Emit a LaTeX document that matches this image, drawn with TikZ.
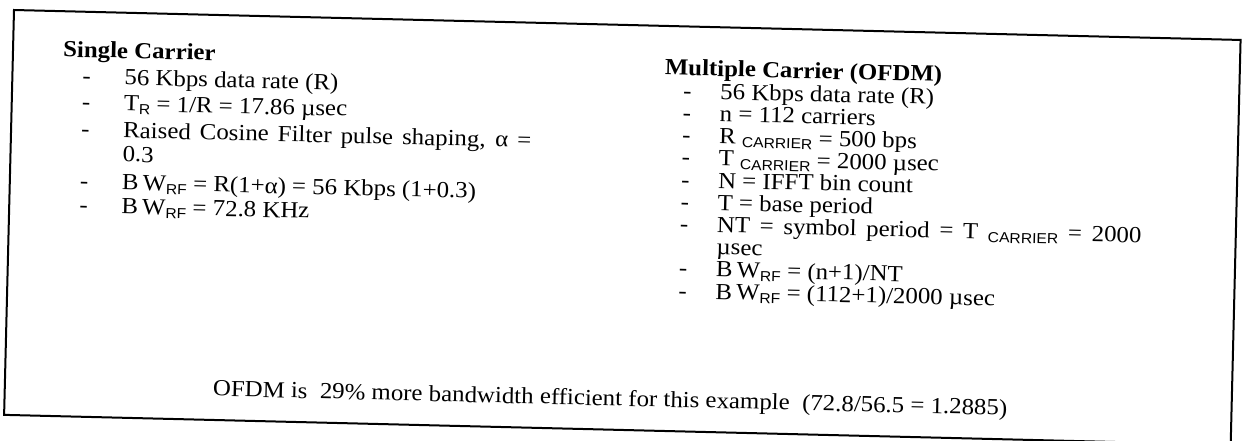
\documentclass[tikz,border=0pt]{standalone}
\usepackage{fontspec}
\setmainfont{Liberation Serif}
\newfontfamily\subfont{Liberation Sans}
% lowered small sans-serif subscript
\newcommand{\sbs}[1]{\raisebox{-0.15em}{\fontsize{14.5}{14.5}\selectfont\subfont #1}}
\begin{document}
\begin{tikzpicture}[x=1pt,y=1pt,
  txt/.style={anchor=base west, inner sep=0pt, font=\fontsize{23}{25}\selectfont, xscale=1.08},
  head/.style={txt, font=\fontsize{23}{25}\selectfont\bfseries},
  dashitem/.style={txt},
  frame/.style={line width=2pt}]
\useasboundingbox (0,0) rectangle (1242,-440);
\clip (0,0) rectangle (1242,-440);
\begin{scope}[shift={(14,-10)}, rotate=-1.4, transform shape]
  \draw[frame] (0,0) rectangle (1227,-405);

  % single carrier column
  \node[head] (sc) at (50,-45.5) {Single Carrier};
  \node[txt] (s1) at (112,-72.2) {56 Kbps data rate (R)};
  \node[txt] (s2) at (112,-98) {T\sbs{R} = 1/R = 17.86 µsec};
  \node[txt] (s3) at (112,-125) {\makebox[378pt][s]{Raised Cosine Filter pulse shaping, α =}};
  \node[txt] (s3b) at (112,-149) {0.3};
  \node[txt] (s4) at (112,-177) {B\,W\sbs{RF} = R(1+α) = 56 Kbps (1+0.3)};
  \node[txt] (s5) at (112,-201) {B\,W\sbs{RF} = 72.8 KHz};
  \foreach \v/\n in {72.2/a,98/b,125/c,177/d,201/e}
    \node[dashitem] (sd\n) at (70,-\v) {-};

  % multiple carrier column
  \node[head] (mc) at (652,-49) {Multiple Carrier (OFDM)};
  \node[txt] (m1) at (708,-72) {56 Kbps data rate (R)};
  \node[txt] (m2) at (708,-94.2) {n = 112 carriers};
  \node[txt] (m3) at (708,-116.4) {R \sbs{CARRIER} = 500 bps};
  \node[txt] (m4) at (708,-138.6) {T \sbs{CARRIER} = 2000 µsec};
  \node[txt] (m5) at (708,-160.8) {N = IFFT bin count};
  \node[txt] (m6) at (708,-183) {T = base period};
  \node[txt] (m7) at (708,-205.2) {\makebox[393pt][s]{NT = symbol period = T \sbs{CARRIER} = 2000}};
  \node[txt] (m7b) at (708,-227.4) {µsec};
  \node[txt] (m8) at (708,-249.6) {B\,W\sbs{RF} = (n+1)/NT};
  \node[txt] (m9) at (708,-271.8) {B\,W\sbs{RF} = (112+1)/2000 µsec};
  \foreach \v/\n in {72/a,94.2/b,116.4/c,138.6/d,160.8/e,183/f,205.2/g,249.6/h,271.8/i}
    \node[dashitem] (md\n) at (671,-\v) {-};

  % conclusion
  \node[txt] (cc) at (208,-381) {OFDM is~ 29\% more bandwidth efficient for this example~ (72.8/56.5 = 1.2885)};
\end{scope}
\end{tikzpicture}
\end{document}
